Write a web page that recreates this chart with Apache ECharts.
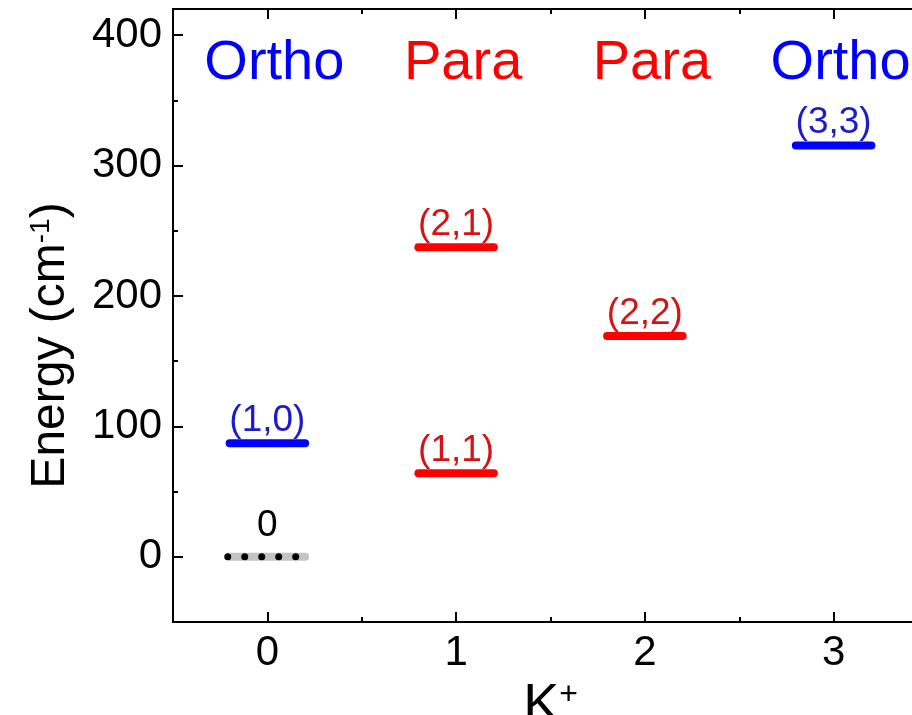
<!DOCTYPE html>
<html>
<head>
<meta charset="utf-8">
<script src="https://cdn.jsdelivr.net/npm/echarts@6/dist/echarts.min.js"></script>
<style>
  html, body { margin: 0; padding: 0; background: #fff; }
  #chart { width: 912px; height: 715px; }
</style>
</head>
<body>
<div id="chart"></div>
<script>
// H3+ rotational levels (K, energy in cm^-1)
const levelNames = ['0', '(1,0)', '(1,1)', '(2,1)', '(2,2)', '(3,3)']
const levelK = [0, 0, 1, 1, 2, 3]
const levelE = [0, 86.96, 64.12, 237.35, 169.3, 315.3]
const levelKind = ['ground', 'ortho', 'para', 'para', 'para', 'ortho']

// dots drawn on the ground (0) level
const groundDotsK = [-0.21, -0.12, -0.03, 0.06, 0.15]

// column headers
const headerNames = ['Ortho', 'Para', 'Para', 'Ortho']
const headerK = [0, 1, 2, 3]
const headerE = [378, 378, 378, 378]

// axis ticks
const xMajor = [0, 1, 2, 3]
const xMinor = [0.5, 1.5, 2.5]
const yMajor = [0, 100, 200, 300, 400]
const yMinor = [50, 150, 250, 350]

const FONT = "'Liberation Sans', Arial, sans-serif"
const HALF = 0.2

const barColor = { ground: '#c4c4c4', ortho: '#0000ff', para: '#ff0000' }
const textColor = { ground: '#000000', ortho: '#1c1cc8', para: '#d41414' }
const headerColor = { Ortho: '#0000ff', Para: '#ff0000' }

const chart = echarts.init(document.getElementById('chart'))

const X = { min: -0.5, max: 3.5 }
const Y = { min: -50, max: 420 }

const tickStyle = { color: '#000', width: 2 }

function xAx(pos, ticks, len, extra) {
  return Object.assign({
    type: 'value', min: X.min, max: X.max, position: pos,
    axisLine: { show: true, onZero: false, lineStyle: { color: '#000', width: 2 } },
    axisTick: { show: true, inside: true, length: len, customValues: ticks, lineStyle: tickStyle },
    axisLabel: { show: false },
    splitLine: { show: false }
  }, extra || {})
}

function yAx(pos, ticks, len, extra) {
  return Object.assign({
    type: 'value', min: Y.min, max: Y.max, position: pos,
    axisLine: { show: true, onZero: false, lineStyle: { color: '#000', width: 2 } },
    axisTick: { show: true, inside: true, length: len, customValues: ticks, lineStyle: tickStyle },
    axisLabel: { show: false },
    splitLine: { show: false }
  }, extra || {})
}

const series = []

levelNames.forEach((name, i) => {
  const k = levelK[i], e = levelE[i]
  series.push({
    type: 'line',
    name: name,
    data: [[k - HALF, e], [k + HALF, e]],
    symbol: 'none',
    lineStyle: { width: 8, color: barColor[levelKind[i]], cap: 'round' },
    silent: true,
    z: 2
  })
})

series.push({
  type: 'scatter',
  data: groundDotsK.map(k => [k, levelE[0]]),
  symbolSize: 7,
  itemStyle: { color: '#000', opacity: 1 },
  silent: true,
  z: 3
})

series.push({
  type: 'scatter',
  data: levelNames.map((name, i) => ({
    value: [levelK[i], levelE[i]],
    name: name,
    label: { color: textColor[levelKind[i]], distance: levelKind[i] === 'ground' ? 12 : 4 }
  })),
  symbolSize: 0,
  itemStyle: { opacity: 1 },
  label: {
    show: true, position: 'top', distance: 4,
    formatter: p => p.name,
    fontSize: 37, fontFamily: FONT
  },
  silent: true,
  z: 4
})

series.push({
  type: 'scatter',
  data: headerNames.map((name, i) => ({
    value: [headerK[i], headerE[i]],
    name: name,
    label: { color: headerColor[name] }
  })),
  symbolSize: 0,
  itemStyle: { opacity: 1 },
  label: {
    show: true, position: 'inside', offset: [7, 0],
    formatter: p => p.name,
    fontSize: 56, fontFamily: FONT
  },
  silent: true,
  z: 4
})

const option = {
  animation: false,
  backgroundColor: '#fff',
  grid: { left: 173, top: 9, right: -16, bottom: 93, containLabel: false, outerBoundsMode: 'none' },
  xAxis: [
    xAx('bottom', xMajor, 10, {
      axisLabel: { show: true, customValues: xMajor, fontSize: 42, color: '#000', fontFamily: FONT, margin: 10 },
      name: 'K{sup|+}',
      nameLocation: 'middle',
      nameGap: 32,
      nameTextStyle: {
        fontSize: 54, color: '#000', fontFamily: FONT, verticalAlign: 'top',
        rich: { sup: { fontSize: 32, color: '#000', fontFamily: FONT, verticalAlign: 'top' } }
      }
    }),
    xAx('bottom', xMinor, 5),
    xAx('top', xMajor, 10),
    xAx('top', xMinor, 5)
  ],
  yAxis: [
    yAx('left', yMajor, 10, {
      axisLabel: { show: true, customValues: yMajor, fontSize: 42, color: '#000', fontFamily: FONT, margin: 11 },
      name: 'Energy (cm{sup|-1})',
      nameLocation: 'middle',
      nameGap: 98,
      nameTextStyle: {
        fontSize: 48, color: '#000', fontFamily: FONT, padding: [0, 60, 0, 0],
        rich: { sup: { fontSize: 28, color: '#000', fontFamily: FONT, verticalAlign: 'top' } }
      }
    }),
    yAx('left', yMinor, 5)
  ],
  series: series
}

chart.setOption(option)
</script>
</body>
</html>
